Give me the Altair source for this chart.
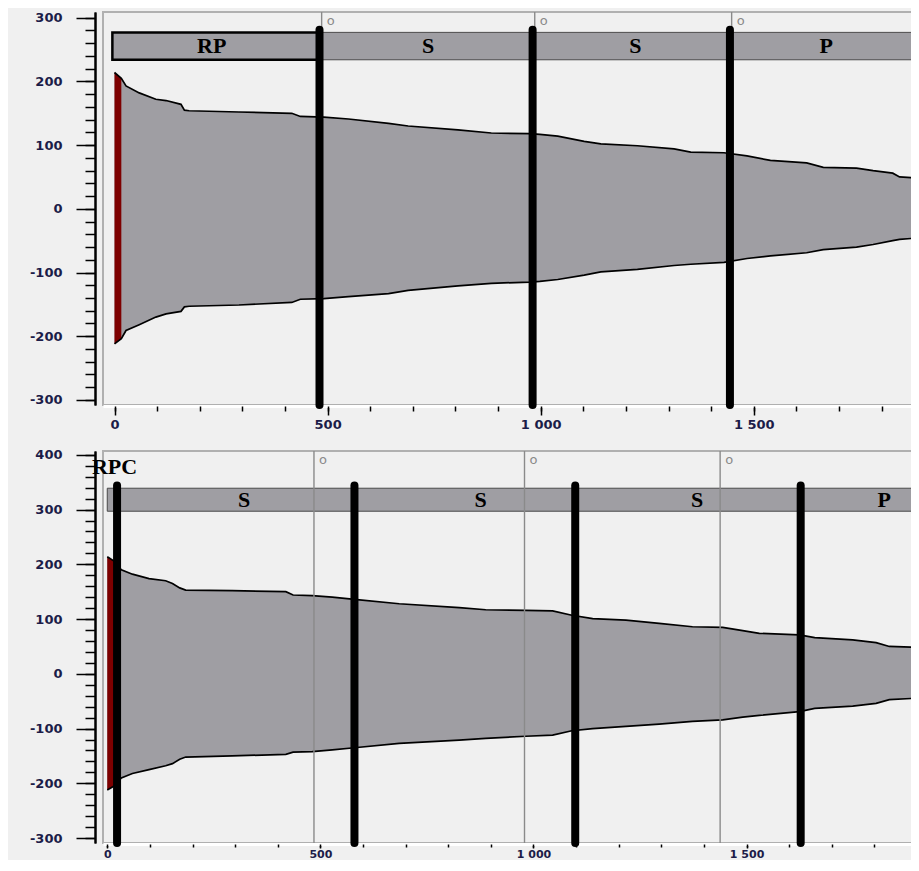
import altair as alt
import pandas as pd

# ---------------- data ----------------
# upper panel envelope
top_x = [0, 16, 27, 58, 97, 121, 156, 164, 175, 292, 416, 436, 491, 549, 643, 689, 806, 884, 974, 998,
         1040, 1102, 1141, 1227, 1313, 1352, 1430, 1484, 1539, 1624, 1663, 1741, 1780, 1826, 1842, 1900]
top_upper = [214, 205, 193, 182, 172, 170, 164, 155, 154, 152, 150, 145, 144, 141, 134, 130, 124, 119, 118, 117,
             114, 106, 102, 99, 94, 89, 88, 83, 76, 72, 65, 64, 60, 56, 50, 48]
top_lower = [-212, -204, -191, -182, -170, -165, -161, -154, -153, -151, -147, -142, -141, -138, -133, -128, -121, -117, -115, -114,
             -111, -104, -99, -95, -89, -87, -84, -78, -74, -69, -64, -60, -56, -50, -48, -45]

# lower panel envelope
bot_x = [0, 16, 33, 59, 98, 137, 153, 170, 184, 293, 419, 436, 481, 528, 580, 685, 826, 888, 982, 1045,
         1090, 1139, 1217, 1295, 1373, 1444, 1491, 1530, 1624, 1660, 1749, 1804, 1835, 1915]
bot_upper = [214, 206, 190, 182, 174, 170, 165, 157, 153, 152, 150, 144, 143, 140, 136, 128, 121, 117, 116, 115,
             107, 101, 98, 92, 86, 85, 79, 74, 71, 66, 62, 57, 50, 48]
bot_lower = [-212, -205, -190, -182, -175, -168, -164, -156, -152, -150, -147, -143, -142, -139, -135, -127, -121, -118, -114, -112,
             -104, -100, -96, -92, -87, -84, -79, -76, -69, -63, -59, -54, -47, -44]

RED_END = 16

# header band segments
top_seg_start = [-5, 481, 981, 1444]
top_seg_end = [481, 981, 1444, 1905]
top_seg_name = ["RP", "S", "S", "P"]
top_label_x = [228, 736, 1222, 1670]
top_cuts = [481, 981, 1444]
top_marks = [486, 986, 1448]

bot_seg_start = [0, 23, 580, 1098, 1627]
bot_seg_end = [23, 580, 1098, 1627, 1995]
bot_seg_name = ["RPC", "S", "S", "S", "P"]
bot_label_name = ["S", "S", "S", "P"]
bot_label_x = [321, 876, 1384, 1823]
bot_cuts = [23, 580, 1098, 1627]
bot_marks = [485, 979, 1438]
bot_title = ["RPC"]
bot_title_x = [-36]
bot_title_y = [377]

x_major = [0, 500, 1000, 1500]
x_minor = list(range(0, 1900, 100))
top_y_major = [-300, -200, -100, 0, 100, 200, 300]
top_y_minor = list(range(-300, 301, 20))
bot_y_major = [-300, -200, -100, 0, 100, 200, 300, 400]
bot_y_minor = list(range(-300, 401, 20))

GREY = "#9f9ea3"
RED = "#7d0000"
LABEL_COLOR = "#1c1c48"


def panel(xs, up, lo, seg_s, seg_e, seg_n, lab_n, lab_x, cuts, marks,
          xdom, ydom, band_lo, band_hi, rule_top, mark_y, y_major, y_minor,
          xtick, xminor, xlabpad, xlabsize):
    env = pd.DataFrame({"x": xs, "upper": up, "lower": lo})
    segs = pd.DataFrame({"start": seg_s, "end": seg_e, "name": seg_n,
                         "lo": band_lo, "hi": band_hi})
    labs = pd.DataFrame({"x": lab_x, "name": lab_n, "y": (band_lo + band_hi) / 2})
    cut_df = pd.DataFrame({"x": cuts, "top": rule_top, "bottom": ydom[0]})
    mark_df = pd.DataFrame({"x": marks, "y": mark_y, "t": "o"})

    xs_ = alt.Scale(domain=xdom, nice=False, zero=False)
    ys_ = alt.Scale(domain=ydom, nice=False, zero=False)

    x_axis_major = alt.Axis(values=x_major, tickSize=xtick, tickWidth=1.5, tickColor="black",
                            labelExpr="replace(format(datum.value, ','), ',', ' ')",
                            labelFlush=False, labelOverlap=False, labelPadding=xlabpad,
                            labelBaseline="top", labelFontSize=xlabsize,
                            domainColor="white", domainWidth=3, offset=1, grid=False,
                            orient="bottom", title=None)
    x_axis_minor = alt.Axis(values=x_minor, tickSize=xminor, tickWidth=1.5, tickColor="black",
                            labels=False, domain=False, offset=1, grid=False,
                            orient="bottom", title=None)
    y_axis_major = alt.Axis(values=y_major, tickSize=19, tickWidth=1.5, tickColor="black",
                            labelExpr="'' + datum.value", labelFlush=False, labelOverlap=False,
                            labelPadding=14, domainColor="black", domainWidth=2, offset=8,
                            grid=False, orient="left", title=None)
    y_axis_minor = alt.Axis(values=y_minor, tickSize=10, tickWidth=1.5, tickColor="black",
                            labels=False, domainColor="black", domainWidth=2, offset=8,
                            grid=False, orient="left", title=None)

    base = alt.Chart(env)
    area = base.mark_area(color=GREY, opacity=1, clip=True).encode(
        x=alt.X("x:Q", scale=xs_, axis=x_axis_major),
        y=alt.Y("upper:Q", scale=ys_, axis=y_axis_major),
        y2="lower:Q",
    )
    red = base.transform_filter(alt.datum.x <= RED_END).mark_area(color=RED, opacity=1, clip=True).encode(
        x=alt.X("x:Q", scale=xs_, axis=None),
        y=alt.Y("upper:Q", scale=ys_, axis=None),
        y2="lower:Q",
    )
    up_line = base.mark_line(color="black", strokeWidth=1.7, clip=True).encode(
        x=alt.X("x:Q", scale=xs_, axis=x_axis_minor),
        y=alt.Y("upper:Q", scale=ys_, axis=y_axis_minor),
    )
    lo_line = base.mark_line(color="black", strokeWidth=1.7, clip=True).encode(
        x=alt.X("x:Q", scale=xs_, axis=None),
        y=alt.Y("lower:Q", scale=ys_, axis=None),
    )
    band = alt.Chart(segs).mark_rect(fill=GREY, clip=True).encode(
        x=alt.X("start:Q", scale=xs_, axis=None),
        x2="end:Q",
        y=alt.Y("lo:Q", scale=ys_, axis=None),
        y2="hi:Q",
        stroke=alt.condition(alt.datum.name == "RP", alt.value("black"), alt.value("#4a4a4a")),
        strokeWidth=alt.condition(alt.datum.name == "RP", alt.value(2.5), alt.value(1)),
    )
    band_text = alt.Chart(labs).mark_text(font="Liberation Serif", fontWeight="bold", fontSize=22,
                                          color="black", baseline="middle", align="center").encode(
        x=alt.X("x:Q", scale=xs_, axis=None),
        y=alt.Y("y:Q", scale=ys_, axis=None),
        text="name:N",
    )
    thin = alt.Chart(mark_df).mark_rule(color="#8a8a8a", strokeWidth=1.4).encode(
        x=alt.X("x:Q", scale=xs_, axis=None),
    )
    o_text = alt.Chart(mark_df).mark_text(font="DejaVu Sans", fontSize=13, color="#8a8a8a",
                                          align="left", baseline="middle", dx=5).encode(
        x=alt.X("x:Q", scale=xs_, axis=None),
        y=alt.Y("y:Q", scale=ys_, axis=None),
        text="t:N",
    )
    thick = alt.Chart(cut_df).mark_rule(color="black", strokeWidth=8, strokeCap="round").encode(
        x=alt.X("x:Q", scale=xs_, axis=None),
        y=alt.Y("top:Q", scale=ys_, axis=None),
        y2="bottom:Q",
    )
    layers = [area, red, up_line, lo_line, band, band_text, thin, o_text, thick]
    return layers, xs_, ys_


top_layers, _, _ = panel(top_x, top_upper, top_lower, top_seg_start, top_seg_end, top_seg_name,
                         top_seg_name, top_label_x, top_cuts, top_marks,
                         [-27, 1897], [-308, 309], 234, 277, 281, 295,
                         top_y_major, top_y_minor, 9, 5, 3, 13)
top = alt.layer(*top_layers).resolve_axis(x="independent", y="independent").properties(
    width=820, height=393)

bot_layers, bxs, bys = panel(bot_x, bot_upper, bot_lower, bot_seg_start, bot_seg_end, bot_seg_name,
                             bot_label_name, bot_label_x, bot_cuts, bot_marks,
                             [-10, 1914], [-309, 407], 297, 339, 344, 390,
                             bot_y_major, bot_y_minor, 4, 3, 0, 11)
title_df = pd.DataFrame({"x": bot_title_x, "y": bot_title_y, "t": bot_title})
rpc = alt.Chart(title_df).mark_text(font="Liberation Serif", fontWeight="bold", fontSize=22,
                                    color="black", align="left", baseline="middle").encode(
    x=alt.X("x:Q", scale=bxs, axis=None),
    y=alt.Y("y:Q", scale=bys, axis=None),
    text="t:N",
)
bottom = alt.layer(*bot_layers, rpc).resolve_axis(x="independent", y="independent").properties(
    width=820, height=392)

chart = alt.vconcat(top, bottom, spacing=15).properties(
    padding={"left": 20, "top": 2, "right": -13, "bottom": 0},
    background="#f0f0f0",
).configure_view(
    fill="#f0f0f0", stroke="#b0b0b0", strokeWidth=2
).configure_axis(
    labelFont="DejaVu Sans", labelFontWeight="bold", labelFontSize=13, labelColor=LABEL_COLOR,
)

chart.save("out.html", embed_options={"renderer": "svg", "actions": False})
